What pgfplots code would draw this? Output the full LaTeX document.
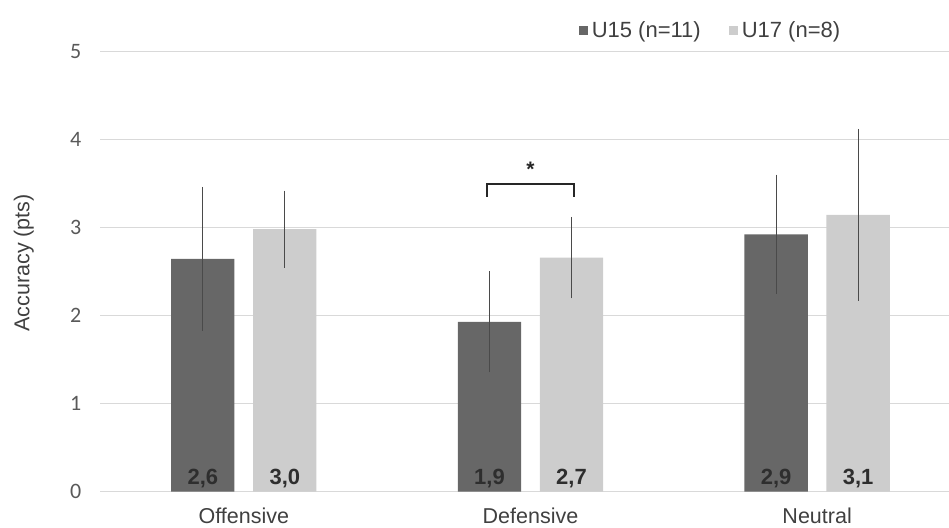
\documentclass[border=0pt]{standalone}
\usepackage{pgfplots}
\pgfplotsset{compat=1.18}
\usepackage{fontspec}
\setmainfont{Liberation Sans}
\newfontfamily\carlito{Carlito}
\definecolor{uone}{HTML}{676767}
\definecolor{utwo}{HTML}{CDCDCD}
\definecolor{gridc}{HTML}{D9D9D9}
\definecolor{errc}{HTML}{4A4A4A}
\definecolor{txt}{HTML}{404040}
\definecolor{tickc}{HTML}{595959}
\definecolor{vals}{HTML}{2E2E2E}

\begin{document}
\begin{tikzpicture}
\useasboundingbox (-100.5pt,-35.3pt) rectangle (848.5pt,491.7pt);
\begin{axis}[
  at={(0pt,0pt)}, anchor=south west,
  scale only axis, width=848.5pt, height=440pt,
  ybar, bar width=63.3pt,
  xmin=-0.5, xmax=2.46, ymin=0, ymax=5,
  xtick={0,1,2}, xticklabels={Offensive,Defensive,Neutral},
  ytick={0,1,2,3,4,5},
  ymajorgrids, major grid style={draw=gridc, line width=1.3pt},
  axis line style={draw=none},
  major tick length=0pt, tick style={draw=none},
  font=\fontsize{21.5}{24}\selectfont,
  xticklabel style={anchor=base, inner sep=0pt, yshift=-31.6pt, text=txt},
  yticklabel style={font=\carlito\fontsize{22}{24}\selectfont, text=tickc, inner xsep=0pt, xshift=-19pt},
  /pgf/number format/assume math mode=true,
  ylabel={Accuracy (pts)},
  ylabel style={at={(axis description cs:-0.0905,0.52)}, anchor=center, text=txt},
  legend style={draw=none, fill=none, at={(0.564,1.049)}, anchor=west,
    inner sep=0pt, text=txt, font=\fontsize{22}{24}\selectfont,
    nodes={inner xsep=3.5pt},
    /tikz/every even column/.append style={column sep=25pt}},
  legend columns=2, legend cell align=left,
  legend image code/.code={\fill[#1,/tikz/.cd,draw=none] (0pt,-4.5pt) rectangle (9pt,4.5pt);},
  error bars/error bar style={draw=errc, line width=1pt},
  error bars/error mark options={draw=errc, line width=1pt, mark size=2pt},
]

% U15
\addplot[fill=uone, draw=none, bar shift=-41pt,
  error bars/.cd, y dir=both, y explicit]
coordinates {
  (0,2.645) +- (0,0.795)
  (1,1.93)  +- (0,0.55)
  (2,2.925) +- (0,0.655)
};
\addlegendentry{U15 (n=11)}

% U17
\addplot[fill=utwo, draw=none, bar shift=41pt,
  error bars/.cd, y dir=both, y explicit]
coordinates {
  (0,2.985) +- (0,0.415)
  (1,2.66)  +- (0,0.44)
  (2,3.145) +- (0,0.955)
};
\addlegendentry{U17 (n=8)}

% value labels
\addplot[draw=none, fill=none, bar shift=-41pt, forget plot,
  point meta=explicit symbolic, nodes near coords,
  every node near coord/.append style={anchor=base, inner sep=0pt,
    font=\bfseries\fontsize{22}{24}\selectfont, text=vals}]
coordinates {(0,0.084) [2,6] (1,0.084) [1,9] (2,0.084) [2,9]};
\addplot[draw=none, fill=none, bar shift=41pt, forget plot,
  point meta=explicit symbolic, nodes near coords,
  every node near coord/.append style={anchor=base, inner sep=0pt,
    font=\bfseries\fontsize{22}{24}\selectfont, text=vals}]
coordinates {(0,0.084) [3,0] (1,0.084) [2,7] (2,0.084) [3,1]};

% significance bracket
\addplot[sharp plot, mark=none, draw=black!85, line width=2pt, forget plot]
coordinates {(0.850,3.352) (0.850,3.497) (1.151,3.497) (1.151,3.352)};
\node[anchor=base, inner sep=0pt, font=\bfseries\fontsize{21}{24}\selectfont, text=black!85]
  at (axis cs:1.0,3.585) {*};

\end{axis}
\end{tikzpicture}
\end{document}
